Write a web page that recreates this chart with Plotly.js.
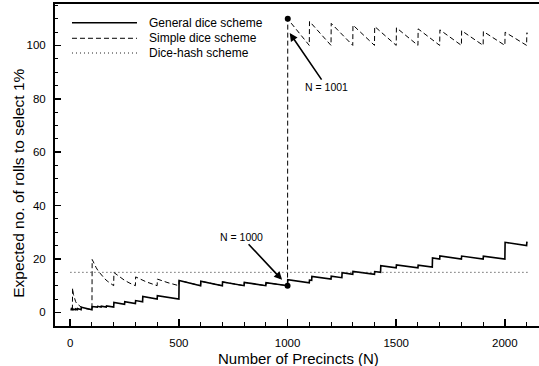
<!DOCTYPE html>
<html>
<head>
<meta charset="utf-8">
<script src="https://cdn.plot.ly/plotly-3.0.1.min.js"></script>
<style>html,body{margin:0;padding:0;background:#fff;}#chart{width:539px;height:366px;}</style>
</head>
<body>
<div id="chart"></div>
<script>
// General dice scheme (solid)
const generalN = [1,2,3,4,5,6,7,8,9,10,11,12,13,14,15,16,17,20,21,25,26,33,34,50,51,100,
  101,111,112,125,126,142,143,166,167,200,
  201,250,251,300,301,333,334,400,401,500,
  501,600,601,700,701,800,801,900,901,1000,
  1001,1100,1101,1111,1112,1200,1201,1250,1251,1300,1301,1400,1401,1428,1429,1500,
  1501,1600,1601,1666,1667,1700,1701,1800,1801,1900,1901,2000,2001,2100,2101,2105];
const generalY = [1,1,1.11,1.25,1,1.67,1.43,1.25,1.11,1,1.01,1.04,1.10,1.02,1.11,1.04,1.18,1.0,1.19,1.0,1.28,1.01,1.47,1.0,1.96,1.0,
  2.20,2.00,2.23,2.00,2.27,2.01,2.33,2.01,2.40,2.00,
  3.73,3.00,3.98,3.33,4.43,4.00,5.99,5.00,6.23,5.00,
  11.98,10.00,11.65,10.00,11.41,10.00,11.24,10.00,11.10,10.00,
  12.21,11.11,12.11,12.00,13.49,12.50,13.53,13.00,14.85,14.29,15.37,14.29,15.30,15.01,17.50,16.67,
  17.77,16.67,17.70,17.01,20.40,20.00,21.16,20.00,21.10,20.00,21.04,20.00,26.24,25.00,26.18,26.13];

// Simple dice scheme (dashed)
const simpleN = [10,11,13,15,20,25,30,40,50,70,100,
  101,110,120,130,140,150,160,170,180,190,200,
  201,225,250,275,300,301,350,400,401,450,500,
  501,600,601,700,701,800,801,900,901,1000,
  1001,1100,1101,1200,1201,1300,1301,1400,1401,1500,1501,1600,1601,1700,
  1701,1800,1801,1900,1901,2000,2001,2100,2101,2105];
const simpleY = [1,9.09,7.69,6.67,5.0,4.0,3.33,2.5,2.0,1.43,1.0,
  19.80,18.18,16.67,15.38,14.29,13.33,12.50,11.76,11.11,10.53,10.0,
  14.93,13.33,12.0,10.91,10.0,13.29,11.43,10.0,12.47,11.11,10.0,
  11.98,10.0,11.65,10.0,11.41,10.0,11.24,10.0,11.10,10.0,
  109.89,100.0,108.99,100.0,108.24,100.0,107.61,100.0,107.07,100.0,106.60,100.0,106.18,100.0,
  105.82,100.0,105.50,100.0,105.21,100.0,104.95,100.0,104.71,104.51];

// Dice-hash scheme (dotted)
const hashN = [1, 2105];
const hashY = [15, 15];

// Highlighted points
const markN = [1000, 1001];
const markY = [10, 110];

const xTicks = [0, 500, 1000, 1500, 2000];
const yTicks = [0, 20, 40, 60, 80, 100];

const legendNames = ['General dice scheme', 'Simple dice scheme', 'Dice-hash scheme'];
const legendDash = ['solid', '5px,3px', '1px,3px'];
const legendWidth = [1.5, 1, 1];

const xTitle = 'Number of Precincts (N)';
const yTitle = 'Expected no. of rolls to select 1%';

const FONT = 'Liberation Sans, Arial, Helvetica, sans-serif';

const traces = [
  {x: generalN, y: generalY, type: 'scatter', mode: 'lines', name: legendNames[0],
   line: {color: '#000', width: 1.6, dash: 'solid'}, showlegend: false},
  {x: simpleN, y: simpleY, type: 'scatter', mode: 'lines', name: legendNames[1],
   line: {color: '#000', width: 1, dash: '5px,3px'}, showlegend: false},
  {x: hashN, y: hashY, type: 'scatter', mode: 'lines', name: legendNames[2],
   line: {color: '#222', width: 1, dash: '1px,3px'}, showlegend: false},
  {x: markN, y: markY, type: 'scatter', mode: 'markers',
   marker: {color: '#000', size: 6}, showlegend: false}
];

// custom legend
const legY = [0.942, 0.8935, 0.8478];
const shapes = [];
const annotations = [];
for (let i = 0; i < legendNames.length; i++) {
  shapes.push({type: 'line', xref: 'paper', yref: 'paper', x0: 0.0351, x1: 0.1694, y0: legY[i], y1: legY[i],
    line: {color: i === 2 ? '#222' : '#000', width: legendWidth[i], dash: legendDash[i]}});
  annotations.push({xref: 'paper', yref: 'paper', x: 0.1895, y: legY[i], xanchor: 'left', yanchor: 'middle',
    text: legendNames[i], showarrow: false, font: {family: FONT, size: 12, color: '#000'}});
}
annotations.push({x: 1000, y: 10, xref: 'x', yref: 'y', text: 'N = 1000', showarrow: true,
  ax: -46, ay: -49, arrowhead: 2, arrowsize: 1, arrowwidth: 1.6, arrowcolor: '#000', standoff: 8,
  font: {family: FONT, size: 10.5, color: '#000'}});
annotations.push({x: 1010, y: 104.6, xref: 'x', yref: 'y', text: 'N = 1001', showarrow: true,
  ax: 37, ay: 54, arrowhead: 2, arrowsize: 1, arrowwidth: 1.6, arrowcolor: '#000', standoff: 0,
  font: {family: FONT, size: 10.5, color: '#000'}});
// axis titles
annotations.push({xref: 'paper', yref: 'paper', x: 0.504, y: -0.1006, xanchor: 'center', yanchor: 'middle',
  text: xTitle, showarrow: false, font: {family: FONT, size: 15, color: '#000'}});
annotations.push({xref: 'paper', yref: 'paper', x: -0.0758, y: 0.4425, xanchor: 'center', yanchor: 'middle',
  text: yTitle, textangle: -90, showarrow: false, font: {family: FONT, size: 15.5, color: '#000'}});

const layout = {
  width: 539, height: 366,
  margin: {l: 55, r: 0, t: 4, b: 40},
  paper_bgcolor: '#fff', plot_bgcolor: '#fff',
  font: {family: FONT, size: 11, color: '#000'},
  showlegend: false,
  xaxis: {
    range: [-70, 2157], showgrid: false, zeroline: false,
    showline: true, linecolor: '#000', linewidth: 2, mirror: true,
    ticks: 'inside', ticklen: 7, tickwidth: 1.5, tickcolor: '#000',
    tickvals: xTicks, ticktext: xTicks.map(String), ticklabelstandoff: 5,
    minor: {dtick: 100, ticks: 'inside', ticklen: 4, tickwidth: 1, tickcolor: '#000'},
    tickfont: {family: FONT, size: 11.5, color: '#000'}
  },
  yaxis: {
    range: [-5.1, 115.5], showgrid: false, zeroline: false,
    showline: true, linecolor: '#000', linewidth: 2, mirror: false,
    ticks: 'inside', ticklen: 6, tickwidth: 1.5, tickcolor: '#000',
    tickvals: yTicks, ticktext: yTicks.map(String), ticklabelstandoff: 5,
    minor: {dtick: 5, ticks: 'inside', ticklen: 3, tickwidth: 1, tickcolor: '#000'},
    tickfont: {family: FONT, size: 11.5, color: '#000'}
  },
  shapes: shapes,
  annotations: annotations
};

Plotly.newPlot('chart', traces, layout, {displayModeBar: false, staticPlot: true});
</script>
</body>
</html>
